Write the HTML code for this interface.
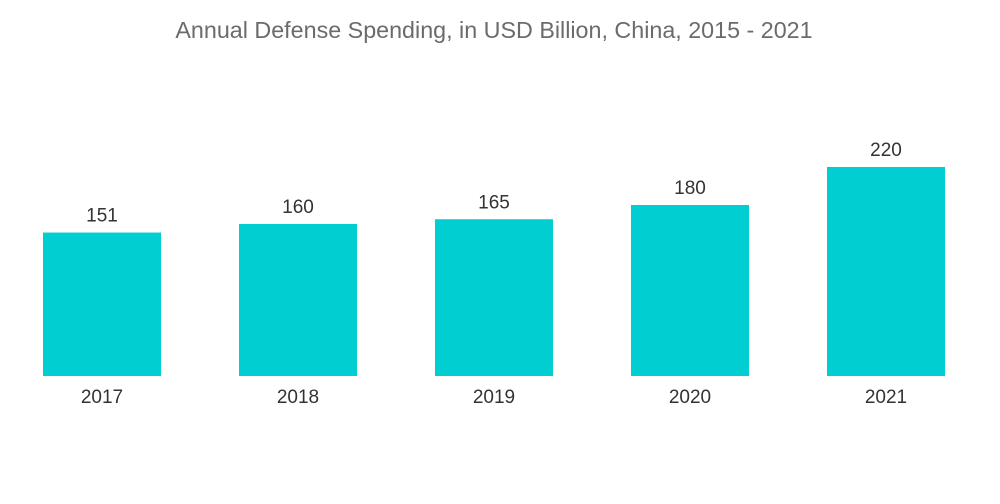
<!DOCTYPE html>
<html><head><meta charset="utf-8"><style>
body{margin:0;background:#fff;}
svg{display:block;font-family:"Liberation Sans",sans-serif;}
</style></head><body>
<svg id="chart" width="1000" height="504">
<text x="494" y="38" text-anchor="middle" font-size="23.3" fill="#6b6b6b">Annual Defense Spending, in USD Billion, China, 2015 - 2021</text>
</svg>
<script>
const categories=["2017","2018","2019","2020","2021"];
const values=[151,160,165,180,220];
const valueLabels=["151","160","165","180","220"];
const svg=document.getElementById('chart');
const NS="http://www.w3.org/2000/svg";
const baseY=376, pxPerUnit=0.95;
function yScale(v){return baseY-v*pxPerUnit;}
function xScale(i){return 43+i*196;}
const bw=118;
categories.forEach((c,i)=>{
  const r=document.createElementNS(NS,'rect');
  r.setAttribute('x',xScale(i));r.setAttribute('y',yScale(values[i]));
  r.setAttribute('width',bw);r.setAttribute('height',baseY-yScale(values[i]));
  r.setAttribute('fill','#00ced1');
  
  
  svg.appendChild(r);
  const t=document.createElementNS(NS,'text');
  t.setAttribute('x',xScale(i)+bw/2);t.setAttribute('y',yScale(values[i])-11);
  t.setAttribute('text-anchor','middle');t.setAttribute('font-size','19');t.setAttribute('fill','#333');
  t.textContent=valueLabels[i];
  
  
  svg.appendChild(t);
  const x=document.createElementNS(NS,'text');
  x.setAttribute('x',xScale(i)+bw/2);x.setAttribute('y',403);
  x.setAttribute('text-anchor','middle');x.setAttribute('font-size','19');x.setAttribute('fill','#333');
  x.textContent=c;
  
  
  svg.appendChild(x);
});
</script>
</body></html>
